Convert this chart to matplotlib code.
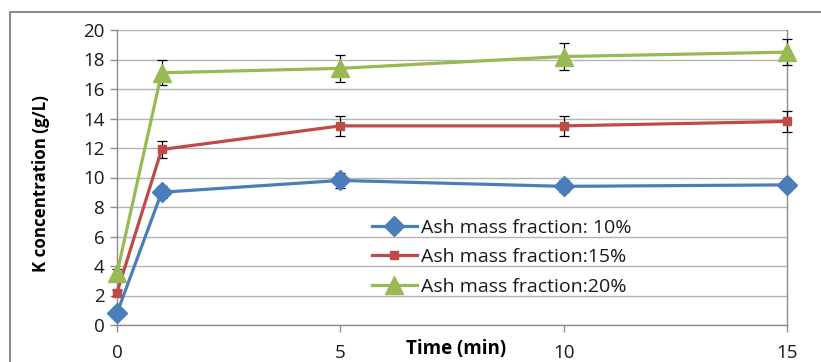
import matplotlib
matplotlib.use("Agg")
import matplotlib.pyplot as plt
from matplotlib.patches import Rectangle

plt.rcParams['font.family'] = ['Open Sans', 'DejaVu Sans']

time = [0, 1, 5, 10, 15]
ash10 = [0.8, 9.0, 9.8, 9.4, 9.5]
ash15 = [2.2, 11.9, 13.5, 13.5, 13.8]
ash20 = [3.5, 17.1, 17.4, 18.2, 18.5]
err10 = [0.2, 0.4, 0.5, 0.4, 0.3]
err15 = [0.2, 0.6, 0.7, 0.7, 0.7]
err20 = [0.3, 0.85, 0.9, 0.9, 0.9]
labels = ["Ash mass fraction: 10%", "Ash mass fraction:15%", "Ash mass fraction:20%"]
xticks = [0, 5, 10, 15]
yticks = list(range(0, 21, 2))

W, H = 821, 362
fig = plt.figure(figsize=(W/100, H/100), dpi=100)
ax = fig.add_axes([117/W, 1-325/H, (787-117)/W, (325-30)/H])

fig.patches.append(Rectangle((10/W, -0.1), 1.2, 1-12/H+0.1, transform=fig.transFigure,
                             fill=False, edgecolor='#8c8c8c', linewidth=1.5, zorder=0))

series = [
    (ash10, err10, '#4A7EBB', 'D', 10),
    (ash15, err15, '#BE4B48', 's', 5.5),
    (ash20, err20, '#98B954', '^', 13.5),
]
handles = []
for (vals, err, col, mk, ms), lab in zip(series, labels):
    eb = ax.errorbar(time, vals, yerr=err, fmt='none', ecolor='black', elinewidth=0.9,
                     capsize=3.5, capthick=0.9, zorder=3)
    for c in eb.get_children():
        c.set_clip_on(False)
    h, = ax.plot(time, vals, color=col, marker=mk, markersize=ms, linewidth=2.3,
                 markeredgecolor=col, label=lab, zorder=4, clip_on=False)
    handles.append(h)

ax.set_xlim(0, 15)
ax.set_ylim(0, 20)
ax.set_xticks(xticks)
ax.set_yticks(yticks)
ax.grid(axis='y', color='#b3b3b3', linewidth=1)
ax.set_axisbelow(True)
for s in ['left', 'bottom', 'right']:
    ax.spines[s].set_color('#8c8c8c')
    ax.spines[s].set_linewidth(1)
ax.spines['top'].set_visible(False)
ax.tick_params(axis='both', colors='#8c8c8c', labelcolor='#1a1a1a', labelsize=13.5, length=5, width=1)
ax.tick_params(axis='x', pad=9)
ax.tick_params(axis='y', pad=4)
for sp in ax.spines.values():
    sp.set_zorder(1)

fig.text(456/W, 1-349/H, "Time (min)", ha='center', va='center', fontsize=13.5, fontweight='bold')
fig.text(41/W, 1-184/H, "K concentration (g/L)", ha='center', va='center', rotation=90,
         fontsize=12.2, fontweight='bold')

leg = ax.legend(handles=handles, loc='upper left', bbox_to_anchor=((372-117)/670, (325-219)/295),
                frameon=False, fontsize=14, handlelength=2.3, handletextpad=0.2,
                labelspacing=0.58, borderaxespad=0, borderpad=0)
for t in leg.get_texts():
    t.set_color('#1a1a1a')

fig.savefig("out.png", dpi=100)
